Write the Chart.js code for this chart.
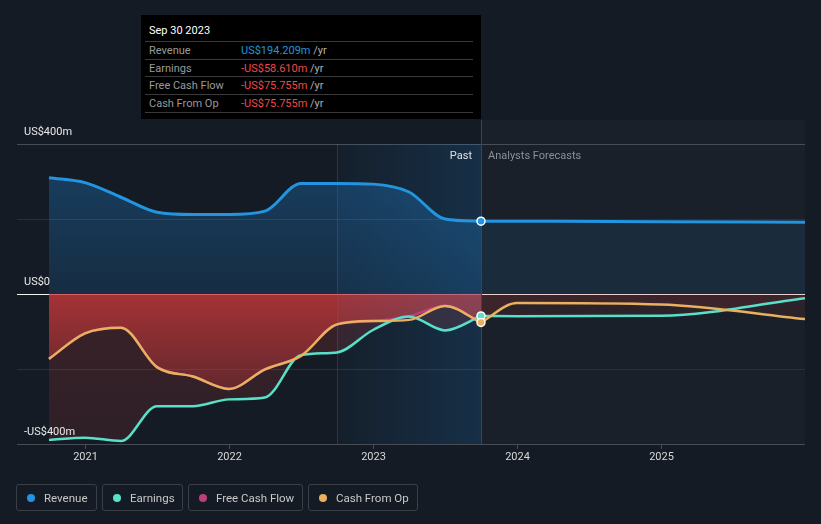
<!DOCTYPE html>
<html>
<head>
<meta charset="utf-8">
<script src="https://cdn.jsdelivr.net/npm/chart.js@4.4.0/dist/chart.umd.min.js"></script>
<style>
  html, body { margin: 0; padding: 0; background: #151b24; }
  body { width: 821px; height: 524px; position: relative; overflow: hidden; font-family: Roboto, sans-serif; }
  #chart { position: absolute; left: 0; top: 0; }
  #tip { position: absolute; left: 141px; top: 15px; width: 340px; height: 104px; background: #000; font-size: 11px; }
  #tip .title { position: absolute; left: 8px; top: 9px; color: #fff; line-height: 14px; }
  #tip .row { position: absolute; left: 4px; width: 328px; height: 17px; line-height: 17px; border-top: 1px solid #3a3a3a; }
  #tip .row.last { border-bottom: 1px solid #3a3a3a; }
  #tip .lbl { position: absolute; left: 4px; color: #9a9a9a; }
  #tip .val { position: absolute; left: 96px; color: #f04848; }
  #tip .val.pos { color: #2394df; }
  #tip .unit { color: #b0b0b0; }
  #legend { position: absolute; left: 16px; top: 484px; display: flex; gap: 5px; }
  #legend .item { box-sizing: border-box; flex-shrink: 0; white-space: nowrap; height: 27px; border: 1px solid #3a3f47; border-radius: 3px; padding: 0 0 0 10px; display: flex; align-items: center; color: #c8c8c8; font-size: 11.5px; }
  #legend .dot { flex-shrink: 0; width: 8px; height: 8px; border-radius: 50%; margin-right: 9px; }
</style>
</head>
<body>
<canvas id="chart" width="821" height="524"></canvas>

<div id="tip">
  <div class="title">Sep 30 2023</div>
  <div class="row" style="top:26px"><span class="lbl">Revenue</span><span class="val pos">US$194.209m <span class="unit">/yr</span></span></div>
  <div class="row" style="top:43.5px"><span class="lbl">Earnings</span><span class="val">-US$58.610m <span class="unit">/yr</span></span></div>
  <div class="row" style="top:61px"><span class="lbl">Free Cash Flow</span><span class="val">-US$75.755m <span class="unit">/yr</span></span></div>
  <div class="row last" style="top:78.5px"><span class="lbl">Cash From Op</span><span class="val">-US$75.755m <span class="unit">/yr</span></span></div>
</div>

<div id="legend">
  <div class="item" style="width:81px"><span class="dot" style="background:#2394df"></span>Revenue</div>
  <div class="item" style="width:81px"><span class="dot" style="background:#58e1c8"></span>Earnings</div>
  <div class="item" style="width:115px"><span class="dot" style="background:#bd407c"></span>Free Cash Flow</div>
  <div class="item" style="width:110px"><span class="dot" style="background:#e9b060"></span>Cash From Op</div>
</div>

<script>
// trailing twelve month values, US$m, quarter ends as decimal years
const pastDates = [2020.75, 2021.0, 2021.25, 2021.5, 2021.75, 2022.0, 2022.25, 2022.5, 2022.75, 2023.0, 2023.25, 2023.5, 2023.75];
const revenuePast = [310, 297, 258, 218, 212, 212, 221, 295, 295, 293, 272, 200, 194.209];
const earningsPast = [-389, -383, -392, -299, -299, -281, -276, -163, -156, -96, -60, -97, -58.61];
const fcfPast = [-173, -105, -90, -195, -220, -253, -201, -165, -81, -72, -60, -31, -75.755];
const cfoPast = [-173, -105, -90, -195, -220, -253, -201, -165, -81, -72, -69, -32, -75.755];

// analyst forecasts
const fcstDates = [2023.75, 2024.0, 2025.0, 2026.0];
const revenueFcst = [194.209, 194, 193, 191];
const earningsFcst = [-58.61, -59, -58, -11];
const cfoFcst = [-75.755, -24, -28, -67];

const gridValues = [400, 200, 0, -200, -400];
const yLabelValues = [400, 0, -400];
const yLabels = ['US$400m', 'US$0', '-US$400m'];
const xTicks = [2021, 2022, 2023, 2024, 2025];
const xLabels = ['2021', '2022', '2023', '2024', '2025'];

const pastStart = 2022.75;
const pastEnd = 2023.75;

const toPoints = (xs, ys) => xs.map((x, i) => ({ x, y: ys[i] }));

// vertical gradient helper (alpha by value)
function vGrad(chart, rgb, aTop, vTop, aBottom, vBottom) {
  const { ctx, scales, chartArea } = chart;
  if (!chartArea || !scales.y) return `rgba(${rgb},${aTop})`;
  const y0 = scales.y.getPixelForValue(vTop);
  const y1 = scales.y.getPixelForValue(vBottom);
  if (!isFinite(y0) || !isFinite(y1)) return `rgba(${rgb},${aTop})`;
  const g = ctx.createLinearGradient(0, y0, 0, y1);
  g.addColorStop(0, `rgba(${rgb},${aTop})`);
  g.addColorStop(1, `rgba(${rgb},${aBottom})`);
  return g;
}

const lastDot = (n) => (c) => c.dataIndex === n - 1 ? 4 : 0;

function lineDs(label, xs, ys, color, width, order, fill, bg, dot) {
  return {
    label,
    data: toPoints(xs, ys),
    borderColor: color,
    borderWidth: width,
    cubicInterpolationMode: 'monotone',
    fill: fill,
    backgroundColor: bg,
    pointRadius: dot ? lastDot(xs.length) : 0,
    pointBackgroundColor: color,
    pointBorderColor: '#ffffff',
    pointBorderWidth: 1.5,
    order
  };
}

const decor = {
  id: 'decor',
  beforeDraw(chart) {
    const { ctx, chartArea: a, scales: { x, y } } = chart;
    ctx.save();
    // forecast region slightly lighter
    const xe = x.getPixelForValue(pastEnd);
    ctx.fillStyle = 'rgba(255,255,255,0.022)';
    ctx.fillRect(xe, 120, a.right - xe, a.bottom - 120);
    // horizontal grid
    gridValues.forEach(v => {
      const py = Math.round(y.getPixelForValue(v)) + 0.5;
      ctx.strokeStyle = v === 0 ? '#f4f4f4' : (Math.abs(v) === 400 ? '#474c55' : '#2a3039');
      ctx.lineWidth = 1;
      ctx.beginPath();
      ctx.moveTo(a.left, py);
      ctx.lineTo(a.right, py);
      ctx.stroke();
    });
    // x tick marks + labels
    ctx.strokeStyle = '#474c55';
    ctx.fillStyle = '#d8d8d8';
    ctx.font = '11px Roboto';
    ctx.textAlign = 'center';
    ctx.textBaseline = 'middle';
    xTicks.forEach((t, i) => {
      const px = Math.round(x.getPixelForValue(t)) + 0.5;
      ctx.beginPath();
      ctx.moveTo(px, a.bottom);
      ctx.lineTo(px, a.bottom + 5);
      ctx.stroke();
      ctx.fillText(xLabels[i], px, a.bottom + 13);
    });
    ctx.restore();
  },
  beforeDatasetsDraw(chart) {
    // past-year band, drawn over the fills but under the lines
    const { ctx, chartArea: a, scales: { x, y } } = chart;
    const xs = x.getPixelForValue(pastStart);
    const xe = x.getPixelForValue(pastEnd);
    const top = y.getPixelForValue(400);
    ctx.save();
    const g = ctx.createLinearGradient(xs, 0, xe, 0);
    g.addColorStop(0, 'rgba(33,150,243,0.04)');
    g.addColorStop(1, 'rgba(33,150,243,0.17)');
    ctx.fillStyle = g;
    ctx.fillRect(xs, top, xe - xs, a.bottom - top);
    ctx.strokeStyle = 'rgba(60,110,150,0.35)';
    ctx.beginPath();
    ctx.moveTo(Math.round(xs) + 0.5, top);
    ctx.lineTo(Math.round(xs) + 0.5, a.bottom);
    ctx.stroke();
    ctx.strokeStyle = '#1f4c72';
    ctx.beginPath();
    ctx.moveTo(Math.round(xe) + 0.5, 120);
    ctx.lineTo(Math.round(xe) + 0.5, a.bottom);
    ctx.stroke();
    ctx.restore();
  },
  afterDatasetsDraw(chart) {
    const { ctx, scales: { x, y } } = chart;
    ctx.save();
    ctx.font = '11px Roboto';
    ctx.textBaseline = 'middle';
    ctx.textAlign = 'left';
    ctx.fillStyle = '#e8e8e8';
    yLabelValues.forEach((v, i) => {
      ctx.fillText(yLabels[i], 24, y.getPixelForValue(v) - 12);
    });
    const xe = x.getPixelForValue(pastEnd);
    const ty = y.getPixelForValue(400) + 12;
    ctx.textAlign = 'right';
    ctx.fillStyle = '#e0e0e0';
    ctx.fillText('Past', xe - 9, ty);
    ctx.textAlign = 'left';
    ctx.fillStyle = '#8b9097';
    ctx.fillText('Analysts Forecasts', xe + 7, ty);
    ctx.restore();
  }
};

const REV = '#2394df', EARN = '#58e1c8', FCF = '#bd407c', CFO = '#e9b060';

new Chart(document.getElementById('chart'), {
  type: 'line',
  data: {
    datasets: [
      lineDs('Revenue', pastDates, revenuePast, REV, 3, 0, 'origin',
        (c) => vGrad(c.chart, '33,150,243', 0.28, 320, 0.15, 0), true),
      lineDs('Cash From Op', pastDates, cfoPast, CFO, 2.5, 1, false, 'transparent', true),
      lineDs('Earnings', pastDates, earningsPast, EARN, 2.5, 2, 'origin',
        (c) => vGrad(c.chart, '206,62,61', 0.2, 0, 0.14, -400), true),
      lineDs('Free Cash Flow', pastDates, fcfPast, FCF, 2.5, 3, 'origin',
        (c) => vGrad(c.chart, '206,56,58', 0.72, 0, 0.08, -400), false),
      lineDs('Revenue forecast', fcstDates, revenueFcst, REV, 3, 4, 'origin', 'rgba(33,150,243,0.09)', false),
      lineDs('Cash From Op forecast', fcstDates, cfoFcst, CFO, 2.5, 5, 'origin', 'rgba(206,62,61,0.1)', false),
      lineDs('Earnings forecast', fcstDates, earningsFcst, EARN, 2.5, 6, 'origin', 'rgba(206,62,61,0.1)', false)
    ]
  },
  options: {
    responsive: false,
    animation: false,
    layout: { padding: { left: 17, right: 16, top: 144, bottom: 80 } },
    scales: {
      x: { type: 'linear', min: 2020.528, max: 2026.0, display: false },
      y: { type: 'linear', min: -400, max: 400, display: false }
    },
    plugins: {
      legend: { display: false },
      tooltip: { enabled: false },
      filler: { drawTime: 'beforeDatasetsDraw' }
    },
    events: []
  },
  plugins: [decor]
});
</script>
</body>
</html>
